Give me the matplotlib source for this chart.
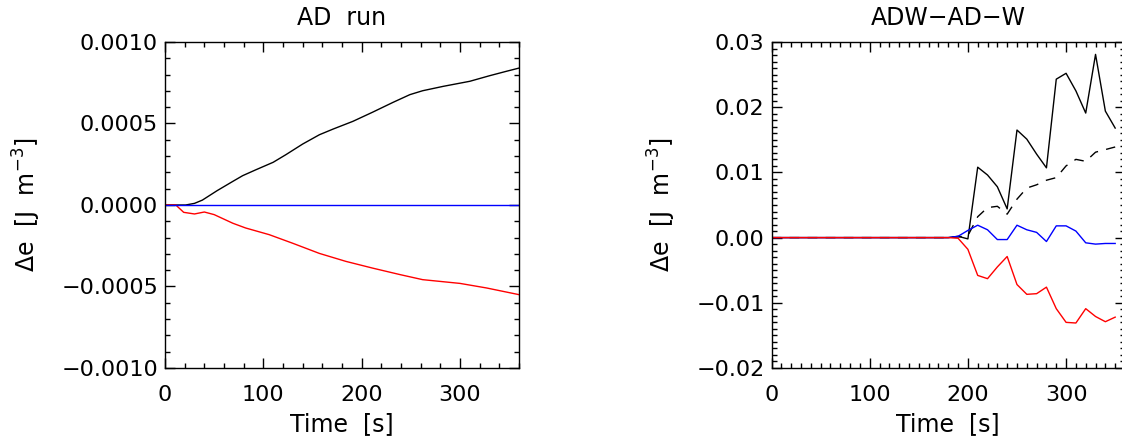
import numpy as np
import matplotlib.pyplot as plt
from matplotlib.ticker import MultipleLocator

# AD run (left panel)
t_ad_black = [0, 21, 30, 38, 53, 69, 79, 92, 110, 123, 140, 157, 171, 191, 211, 232,
              249, 262, 283, 310, 330, 347, 360]
e_ad_black = [0, 0, 1e-5, 3e-5, 8.8e-5, 1.45e-4, 1.8e-4, 2.15e-4, 2.62e-4, 3.09e-4,
              3.74e-4, 4.31e-4, 4.66e-4, 5.13e-4, 5.69e-4, 6.3e-4, 6.77e-4, 7.01e-4,
              7.28e-4, 7.59e-4, 7.93e-4, 8.2e-4, 8.4e-4]
t_ad_red = [0, 11, 19, 30, 40, 50, 69, 82, 106, 130, 157, 184, 211, 239, 262, 300, 327, 360]
e_ad_red = [0, 0, -4.5e-5, -5.5e-5, -4.3e-5, -5.9e-5, -1.12e-4, -1.41e-4, -1.82e-4,
            -2.35e-4, -2.97e-4, -3.46e-4, -3.87e-4, -4.27e-4, -4.58e-4, -4.81e-4,
            -5.09e-4, -5.5e-4]
t_ad_blue = [0, 360]
e_ad_blue = [0, 0]

# ADW-AD-W (right panel), every 10 s
t_diff = np.arange(0, 351, 10)
e_black = [0]*19 + [0.0002, -0.0002, 0.0108, 0.0096, 0.0078, 0.0044, 0.0165, 0.0151,
                    0.0128, 0.0107, 0.0243, 0.0252, 0.0225, 0.0191, 0.0281, 0.0194, 0.0168]
e_dash = [0]*19 + [0.0001, 0.0003, 0.0032, 0.0046, 0.0048, 0.0036, 0.0059, 0.0076,
                   0.0081, 0.0088, 0.0092, 0.0110, 0.0120, 0.0117, 0.0131, 0.0135, 0.0139]
e_blue = [0]*19 + [0.0002, 0.0011, 0.0019, 0.0012, -0.0003, -0.0003, 0.0019, 0.0012,
                   0.0008, -0.0006, 0.0018, 0.0018, 0.0010, -0.0008, -0.0010, -0.0009, -0.0009]
e_red = [0]*19 + [-0.0001, -0.0018, -0.0058, -0.0063, -0.0045, -0.0029, -0.0072, -0.0087,
                  -0.0086, -0.0076, -0.0109, -0.0130, -0.0131, -0.0109, -0.0121, -0.0129, -0.0122]

plt.rcParams['font.family'] = 'DejaVu Sans'
plt.rcParams['mathtext.fontset'] = 'dejavusans'
plt.rcParams['font.size'] = 16

W, H = 1122, 443
fig = plt.figure(figsize=(W/100, H/100), dpi=100)
ax1 = fig.add_axes([165/W, 1-368/H, 354/W, 326/H])
ax2 = fig.add_axes([771.5/W, 1-368/H, 353.5/W, 326/H])

ax1.plot(t_ad_black, e_ad_black, color='black', lw=1)
ax1.plot(t_ad_red, e_ad_red, color='red', lw=1)
ax1.plot(t_ad_blue, e_ad_blue, color='blue', lw=1)
ax1.set_xlim(0, 360)
ax1.set_ylim(-0.001, 0.001)
ax1.set_yticks([-0.001, -0.0005, 0, 0.0005, 0.001])
ax1.set_yticklabels(['\u22120.0010', '\u22120.0005', '0.0000', '0.0005', '0.0010'])
ax1.xaxis.set_major_locator(MultipleLocator(100))
ax1.xaxis.set_minor_locator(MultipleLocator(20))
ax1.yaxis.set_minor_locator(MultipleLocator(0.0001))
ax1.set_title('AD  run', fontsize=17, pad=12)

ax2.plot(t_diff, e_black, color='black', lw=1)
ax2.plot(t_diff, e_dash, color='black', lw=1, linestyle=(0, (7, 6)))
ax2.plot(t_diff, e_blue, color='blue', lw=1)
ax2.plot(t_diff, e_red, color='red', lw=1)
ax2.set_xlim(0, 360)
ax2.set_ylim(-0.02, 0.03)
ax2.set_yticks([-0.02, -0.01, 0, 0.01, 0.02, 0.03])
ax2.set_yticklabels(['\u22120.02', '\u22120.01', '0.00', '0.01', '0.02', '0.03'])
ax2.xaxis.set_major_locator(MultipleLocator(100))
ax2.xaxis.set_minor_locator(MultipleLocator(10))
ax2.yaxis.set_minor_locator(MultipleLocator(0.001))
ax2.set_title('ADW\u2212AD\u2212W', fontsize=17, pad=12)

for ax in (ax1, ax2):
    ax.set_xlabel('Time  [s]', fontsize=17, labelpad=5)
    ax.set_ylabel(r'$\Delta$e  [J  m$^{-3}$]', fontsize=17, labelpad=13)
    ax.tick_params(which='both', direction='in', top=True, right=True, width=1)
    ax.tick_params(which='major', length=7)
    ax.tick_params(which='minor', length=3.5)
    ax.tick_params(axis='x', pad=12)
    ax.tick_params(axis='y', pad=5)
    for s in ax.spines.values():
        s.set_linewidth(1)

fig.savefig('out.png', dpi=100)
